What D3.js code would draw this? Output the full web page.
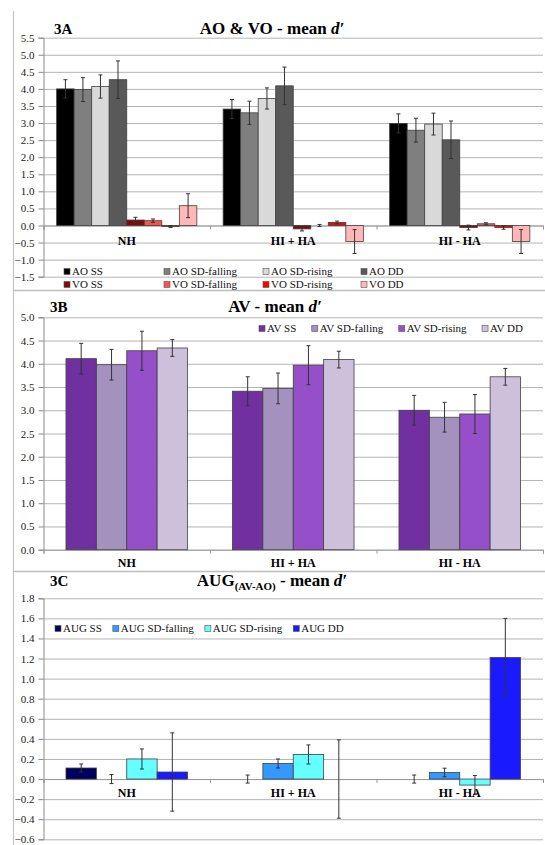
<!DOCTYPE html>
<html>
<head>
<meta charset="utf-8">
<script src="https://cdn.jsdelivr.net/npm/d3@7"></script>
<style>
  body { margin: 0; background: #fff; }
  text { font-family: "Liberation Serif", "DejaVu Serif", serif; }
</style>
</head>
<body>
<div id="chart"></div>
<script>
const width = 545;
const height = 845;

// categorias comunes a los tres paneles
const categories = ['NH', 'HI + HA', 'HI - HA'];

// 3A - AO & VO
const seriesA = ['AO SS', 'AO SD-falling', 'AO SD-rising', 'AO DD', 'VO SS', 'VO SD-falling', 'VO SD-rising', 'VO DD'];
const valuesA = [
  [4.00, 3.98, 4.07, 4.27, 0.16, 0.14, -0.03, 0.58],
  [3.41, 3.30, 3.72, 4.09, -0.10, 0.00, 0.09, -0.47],
  [2.99, 2.79, 2.97, 2.51, -0.06, 0.05, -0.06, -0.47]
];
const errorsA = [
  [0.27, 0.35, 0.34, 0.55, 0.08, 0.05, 0.03, 0.35],
  [0.28, 0.34, 0.31, 0.55, 0.06, 0.03, 0.04, 0.35],
  [0.28, 0.35, 0.32, 0.55, 0.07, 0.03, 0.05, 0.35]
];
const ticksA = [-1.5, -1.0, -0.5, 0.0, 0.5, 1.0, 1.5, 2.0, 2.5, 3.0, 3.5, 4.0, 4.5, 5.0, 5.5];

// 3B - AV
const seriesB = ['AV SS', 'AV SD-falling', 'AV SD-rising', 'AV DD'];
const valuesB = [
  [4.11, 3.98, 4.28, 4.34],
  [3.41, 3.47, 3.97, 4.09],
  [3.00, 2.85, 2.92, 3.72]
];
const errorsB = [
  [0.33, 0.33, 0.42, 0.18],
  [0.31, 0.33, 0.42, 0.18],
  [0.32, 0.32, 0.42, 0.18]
];
const ticksB = [0.0, 0.5, 1.0, 1.5, 2.0, 2.5, 3.0, 3.5, 4.0, 4.5, 5.0];

// 3C - AUG (AV-AO)
const seriesC = ['AUG SS', 'AUG SD-falling', 'AUG SD-rising', 'AUG DD'];
const valuesC = [
  [0.11, 0.00, 0.20, 0.07],
  [0.00, 0.155, 0.245, 0.00],
  [0.00, 0.065, -0.06, 1.21]
];
const errorsC = [
  [0.04, 0.045, 0.10, 0.39],
  [0.04, 0.045, 0.095, 0.39],
  [0.04, 0.043, 0.095, 0.39]
];
const ticksC = [-0.6, -0.4, -0.2, 0.0, 0.2, 0.4, 0.6, 0.8, 1.0, 1.2, 1.4, 1.6, 1.8];

const colorsA = ['#000000', '#7f7f7f', '#d9d9d9', '#595959', '#7f0b0b', '#ff5050', '#ff0000', '#ffb7b7'];
const colorsB = ['#7030a0', '#a391be', '#944fc9', '#ccc0da'];
const colorsC = ['#00005e', '#3399ff', '#66ffff', '#1a1aff'];

const plotLeft = 43.5;
const plotRight = 543;

const svg = d3.select('#chart')
  .append('svg')
  .attr('width', width)
  .attr('height', height);

svg.append('rect')
  .attr('width', width)
  .attr('height', height)
  .attr('fill', 'white');

// marco de los paneles
svg.append('line')
  .attr('x1', 13.5).attr('x2', 13.5)
  .attr('y1', 11).attr('y2', height)
  .attr('stroke', '#c4c4c4').attr('stroke-width', 1.2);
[290.5, 571.5].forEach(yy => {
  svg.append('line')
    .attr('x1', 13).attr('x2', width)
    .attr('y1', yy).attr('y2', yy)
    .attr('stroke', '#bdbdbd').attr('stroke-width', 1.5);
});

function drawPanel(p) {
  const g = svg.append('g');

  const y = d3.scaleLinear().domain(p.domain).range([p.yBottom, p.yTop]);
  const x0 = d3.scaleBand().domain(categories).range([plotLeft, plotRight]);
  const x1 = d3.scaleBand().domain(p.series).range([0, x0.bandwidth()])
    .paddingInner(0).paddingOuter(p.outer);
  const xb = d3.scaleLinear().domain([0, categories.length]).range([plotLeft, plotRight]);

  // rejilla
  g.append('g')
    .attr('transform', `translate(${plotLeft},0)`)
    .call(d3.axisLeft(y).tickValues(p.ticks).tickSize(-(plotRight - plotLeft)).tickFormat(''))
    .call(s => s.select('.domain').remove())
    .call(s => s.selectAll('line').attr('stroke', '#b5b5b5').attr('stroke-width', 1));

  // eje y
  const yAxis = g.append('g')
    .attr('transform', `translate(${plotLeft},0)`)
    .call(d3.axisLeft(y).tickValues(p.ticks).tickSize(5).tickPadding(4).tickFormat(d3.format('.1f')))
    .attr('font-family', '"Liberation Serif", serif')
    .attr('font-size', 11);
  yAxis.select('.domain').attr('stroke', '#8a8a8a');
  yAxis.selectAll('line').attr('stroke', '#8a8a8a');
  yAxis.selectAll('text')
    .attr('fill', '#222')
    .style('font-size', '11px')
    .style('font-family', '"Liberation Serif", serif');

  // eje x en el cero
  const xAxis = g.append('g')
    .attr('transform', `translate(0,${y(0)})`)
    .call(d3.axisBottom(xb).tickValues(d3.range(categories.length + 1)).tickSize(4).tickFormat(''));
  xAxis.select('.domain').attr('stroke', '#9a9a9a');
  xAxis.selectAll('line').attr('stroke', '#9a9a9a');

  // barras
  categories.forEach((cat, i) => {
    p.series.forEach((s, j) => {
      const v = p.values[i][j];
      const e = p.errors[i][j];
      const bx = x0(cat) + x1(s);
      if (v !== 0) {
        g.append('rect')
          .attr('x', bx)
          .attr('y', y(Math.max(v, 0)))
          .attr('width', x1.bandwidth())
          .attr('height', Math.abs(y(v) - y(0)))
          .attr('fill', p.colors[j])
          .attr('stroke', '#404040')
          .attr('stroke-width', 0.8);
      }
      // barra de error
      const cx = bx + x1.bandwidth() / 2;
      const eb = g.append('g').attr('stroke', '#333').attr('stroke-width', 1);
      eb.append('line').attr('x1', cx).attr('x2', cx).attr('y1', y(v + e)).attr('y2', y(v - e));
      eb.append('line').attr('x1', cx - 2).attr('x2', cx + 2).attr('y1', y(v + e)).attr('y2', y(v + e));
      eb.append('line').attr('x1', cx - 2).attr('x2', cx + 2).attr('y1', y(v - e)).attr('y2', y(v - e));
    });

    g.append('text')
      .attr('x', x0(cat) + x0.bandwidth() / 2)
      .attr('y', p.catY)
      .attr('text-anchor', 'middle')
      .style('font-size', '12px')
      .style('font-weight', 'bold')
      .text(cat);
  });

  // etiqueta del panel y titulo
  g.append('text')
    .attr('x', p.tagX)
    .attr('y', p.titleY)
    .style('font-size', '15px')
    .style('font-weight', 'bold')
    .text(p.tag);

  const title = g.append('text')
    .attr('x', p.titleX)
    .attr('y', p.titleY)
    .attr('text-anchor', 'middle')
    .style('font-size', '17px')
    .style('font-weight', 'bold');
  title.append('tspan').text(p.title);
  if (p.sub) {
    title.append('tspan').attr('dy', 4).style('font-size', '11px').text(p.sub);
    title.append('tspan').attr('dy', -4).text(' - mean ');
  } else {
    title.append('tspan').text(' - mean ');
  }
  title.append('tspan').style('font-style', 'italic').text('d\u2032');

  // leyenda: rejilla fija o fila continua
  const legend = g.append('g').attr('class', 'legend');
  let cursor = p.legendStart ? p.legendStart[0] : 0;
  p.series.forEach((s, j) => {
    const pos = p.legendPos ? p.legendPos[j] : [cursor, p.legendStart[1]];
    const item = legend.append('g').attr('transform', `translate(${pos[0]},${pos[1]})`);
    item.append('rect')
      .attr('x', 0).attr('y', -6.5)
      .attr('width', 6).attr('height', 6)
      .attr('fill', p.colors[j])
      .attr('stroke', '#555')
      .attr('stroke-width', 0.6);
    const t = item.append('text')
      .attr('x', 8)
      .attr('y', 0)
      .style('font-size', '11px')
      .attr('fill', '#111')
      .text(s);
    cursor += 8 + t.node().getComputedTextLength() + (p.legendGap || 0);
  });
}

drawPanel({
  tag: '3A', title: 'AO & VO', tagX: 54, titleX: 272, titleY: 34,
  domain: [-1.5, 5.5], yBottom: 276.7, yTop: 37.7, ticks: ticksA,
  series: seriesA, values: valuesA, errors: errorsA, colors: colorsA,
  outer: 0.75, catY: 245,
  legendPos: [[64, 275], [164, 275], [263, 275], [361, 275], [64, 288], [164, 288], [263, 288], [361, 288]]
});

drawPanel({
  tag: '3B', title: 'AV', tagX: 50, titleX: 275, titleY: 312,
  domain: [0, 5], yBottom: 549.7, yTop: 317.3, ticks: ticksB,
  series: seriesB, values: valuesB, errors: errorsB, colors: colorsB,
  outer: 0.74, catY: 567,
  legendStart: [259, 332], legendGap: 15.5
});

drawPanel({
  tag: '3C', title: 'AUG', sub: '(AV-AO)', tagX: 50, titleX: 272, titleY: 586,
  domain: [-0.6, 1.8], yBottom: 839.3, yTop: 598.3, ticks: ticksC,
  series: seriesC, values: valuesC, errors: errorsC, colors: colorsC,
  outer: 0.74, catY: 797,
  legendStart: [55, 632], legendGap: 11
});
</script>
</body>
</html>
